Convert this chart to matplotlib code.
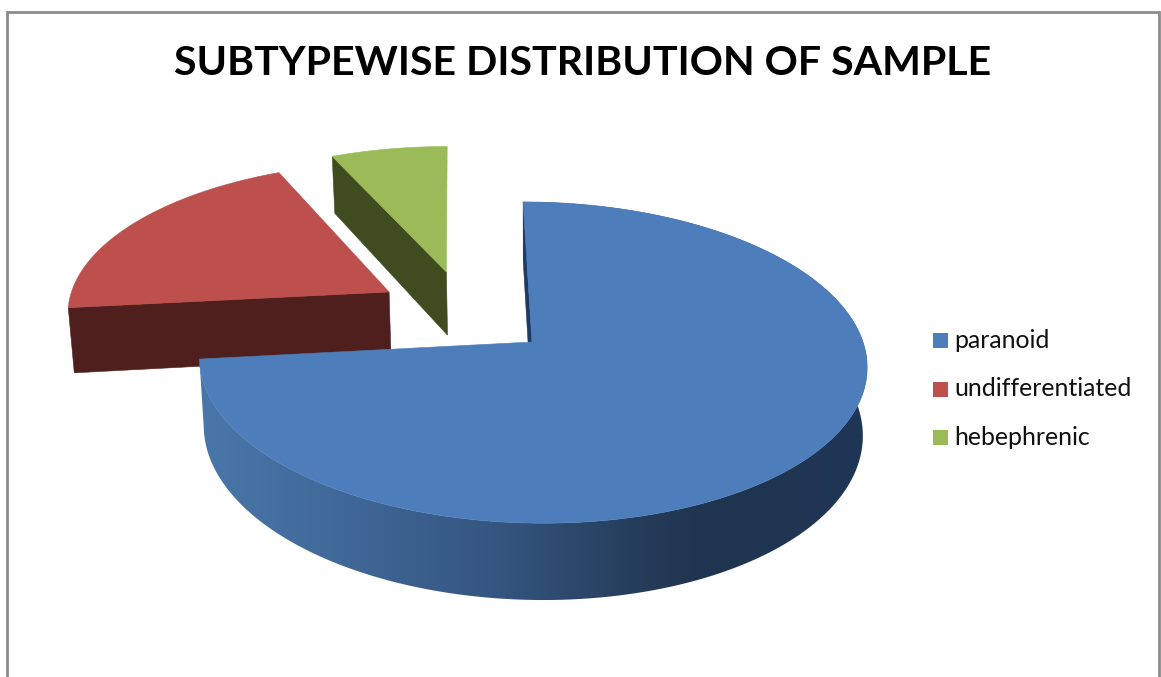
import numpy as np
import matplotlib
matplotlib.use("Agg")
import matplotlib.pyplot as plt
from matplotlib.colors import LinearSegmentedColormap
from matplotlib.patches import Polygon, Rectangle

# valores (%)
labels = ["paranoid", "undifferentiated", "hebephrenic"]
shares = [73.3, 20.0, 6.7]

top_colors = ["#4d7ebb", "#bd4f4c", "#9bbb59"]
wall_colors = ["#1d3a63", "#4f1f1d", "#3f4c20"]
# deslocamento de cada fatia no plano do disco
offsets = [(0.0, 0.0), (-0.44, -0.33), (-0.26, -0.47)]

title = "SUBTYPEWISE DISTRIBUTION OF SAMPLE"

# geometria da projecao (pixels)
CX, CY = 532, 342
RX, RY = 331, 158
PERSP = 0.128
SKEW = 10
DEPTH = 67
TAPER = 0.987

blue_wall = LinearSegmentedColormap.from_list(
    "blue_wall",
    [(0.0, "#4a77a9"), (0.2, "#41699a"), (0.45, "#34557f"),
     (0.65, "#263e5c"), (0.75, "#20344e"), (1.0, "#1f3656")],
)


def project(u, v):
    s = 1.0 / (1.0 - PERSP * v)
    x = CX + RX * u * s + SKEW * v * s
    y = CY + RY * v * s
    return x, y, DEPTH * s


def rim(theta, off):
    # theta em graus, sentido horario a partir do topo
    t = np.radians(theta)
    return project(np.sin(t) + off[0], -np.cos(t) + off[1])


def lower(x):
    # borda inferior da parede, um pouco para dentro
    return CX + (x - CX) * TAPER


def draw_slice(ax, start, end, off, top_color, wall_color, gradient=False):
    thetas = np.linspace(start, end, 300)
    x, y, d = rim(thetas, off)
    ax0, ay0, ad = project(off[0], off[1])

    # parede externa so aparece na fatia azul
    if gradient:
        outline = list(zip(x, y)) + list(zip(lower(x[::-1]), (y + d)[::-1]))
        wall = Polygon(outline, closed=True, fc="none", ec="none", zorder=1,
                       transform=ax.transData)
        ax.add_patch(wall)
        ramp = np.linspace(0, 1, 256).reshape(1, -1)
        img = ax.imshow(ramp, cmap=blue_wall, extent=(200, 867, 677, 0),
                        aspect="auto", zorder=1)
        img.set_clip_path(wall)

    # parede radial do inicio da fatia
    radial = [(ax0, ay0), (x[0], y[0]), (lower(x[0]), y[0] + d[0]), (lower(ax0), ay0 + ad)]
    ax.add_patch(Polygon(radial, closed=True, fc=wall_color, ec=wall_color, lw=0.4, zorder=1))

    pts = [(ax0, ay0)] + list(zip(x, y))
    ax.add_patch(Polygon(pts, closed=True, fc=top_color, ec=top_color, lw=0.4, zorder=2))


fig = plt.figure(figsize=(11.61, 6.77), dpi=100)
ax = fig.add_axes([0, 0, 1, 1])

# moldura
ax.add_patch(Rectangle((7, 12), 1152, 700, fc="white", ec="#8c8c8c", lw=2, zorder=0))

ax.text(583, 63.5, title, ha="center", va="center", fontsize=29.6,
        fontweight="bold", family="Lato", color="black")

ends = np.cumsum(shares) / np.sum(shares) * 360
starts = np.concatenate([[0], ends[:-1]])

# de tras para frente: verde, vermelho, azul
for i in [2, 1, 0]:
    draw_slice(ax, starts[i], ends[i], offsets[i], top_colors[i], wall_colors[i], gradient=(i == 0))

# legenda
for i, lab in enumerate(labels):
    y = 340.5 + i * 48.5
    ax.add_patch(Rectangle((933, y - 7.5), 15, 15, fc=top_colors[i], ec="none"))
    ax.text(954, y, lab, ha="left", va="center", fontsize=17.9, family="Lato", color="#111111")

ax.set_xlim(0, 1161)
ax.set_ylim(677, 0)
ax.axis("off")

fig.savefig("out.png", dpi=100)
